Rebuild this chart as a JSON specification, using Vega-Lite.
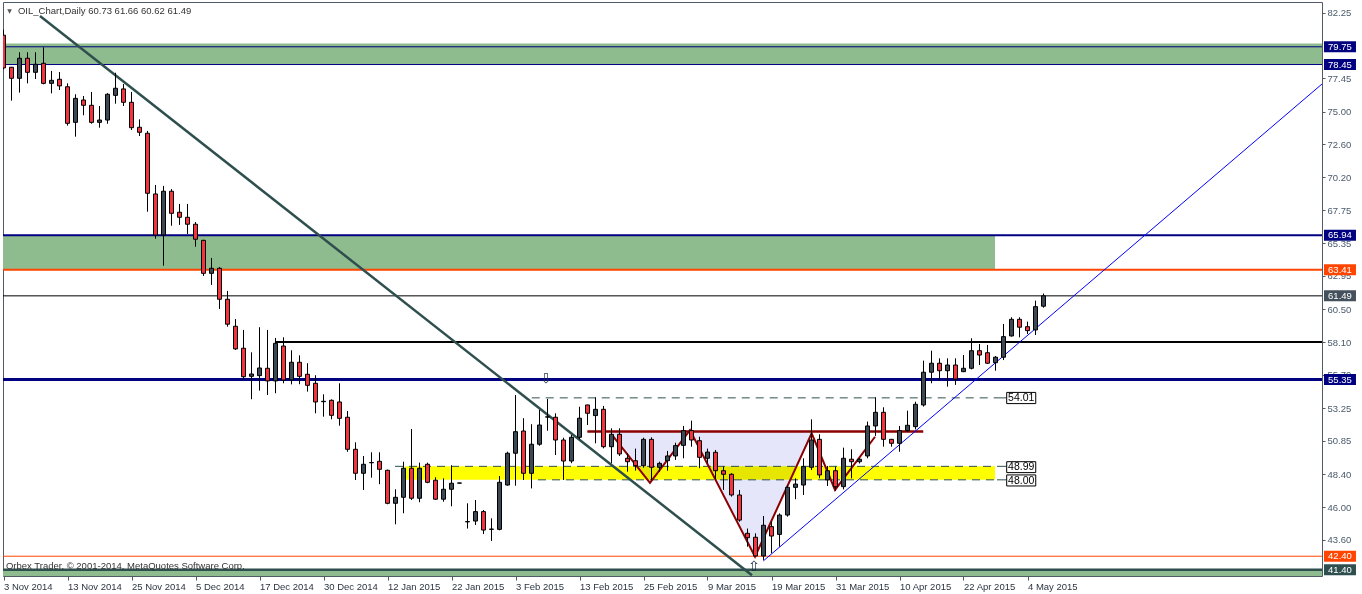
{
"$schema": "https://vega.github.io/schema/vega-lite/v6.json",
"width": 1319, "height": 574,
"autosize": {"type": "none"},
"padding": {"left": 3, "top": 2, "right": 40, "bottom": 18},
"background": "white",
"config": {"view": {"stroke": "#4f5b66", "strokeWidth": 1}, "font": "Liberation Sans", "scale": {"continuousPadding": 0}},
"resolve": {"axis": {"x": "independent", "y": "independent"}},
"datasets": {
"candles": [
{"i":0,"o":80.6,"h":81.0,"l":78.1,"c":78.2},
{"i":1,"o":78.25,"h":78.27,"l":75.8,"c":77.44},
{"i":2,"o":77.44,"h":79.35,"l":76.39,"c":78.91},
{"i":3,"o":78.91,"h":79.35,"l":77.07,"c":77.88},
{"i":4,"o":77.88,"h":79.35,"l":77.39,"c":78.47},
{"i":5,"o":78.54,"h":79.71,"l":77.0,"c":77.07},
{"i":6,"o":77.07,"h":77.98,"l":76.34,"c":77.29},
{"i":7,"o":77.37,"h":77.9,"l":76.58,"c":76.88},
{"i":8,"o":76.82,"h":77.07,"l":73.97,"c":74.14},
{"i":9,"o":74.21,"h":76.27,"l":73.16,"c":75.97},
{"i":10,"o":75.85,"h":76.14,"l":74.73,"c":75.46},
{"i":11,"o":75.46,"h":76.44,"l":74.11,"c":74.21},
{"i":12,"o":74.21,"h":75.41,"l":73.82,"c":74.38},
{"i":13,"o":74.38,"h":76.35,"l":74.11,"c":76.27},
{"i":14,"o":76.19,"h":77.85,"l":75.58,"c":76.71},
{"i":15,"o":76.66,"h":77.02,"l":75.41,"c":75.68},
{"i":16,"o":75.68,"h":76.44,"l":73.65,"c":73.82},
{"i":17,"o":73.85,"h":74.43,"l":73.21,"c":73.48},
{"i":18,"o":73.41,"h":73.58,"l":67.66,"c":69.01},
{"i":19,"o":68.96,"h":69.62,"l":65.68,"c":65.95},
{"i":20,"o":65.95,"h":69.55,"l":63.7,"c":69.16},
{"i":21,"o":69.16,"h":69.32,"l":66.63,"c":67.54},
{"i":22,"o":67.62,"h":68.23,"l":66.69,"c":67.25},
{"i":23,"o":67.25,"h":68.23,"l":66.03,"c":66.74},
{"i":24,"o":66.74,"h":66.9,"l":65.09,"c":65.64},
{"i":25,"o":65.56,"h":65.6,"l":62.95,"c":63.14},
{"i":26,"o":63.14,"h":64.27,"l":62.29,"c":63.51},
{"i":27,"o":63.51,"h":63.6,"l":60.53,"c":61.24},
{"i":28,"o":61.24,"h":61.85,"l":59.23,"c":59.41},
{"i":29,"o":59.26,"h":59.79,"l":57.52,"c":57.6},
{"i":30,"o":57.65,"h":58.99,"l":55.39,"c":55.56},
{"i":31,"o":55.59,"h":57.35,"l":53.91,"c":55.76},
{"i":32,"o":55.64,"h":59.19,"l":54.54,"c":56.2},
{"i":33,"o":56.18,"h":58.99,"l":54.22,"c":55.25},
{"i":34,"o":55.25,"h":58.4,"l":54.35,"c":58.01},
{"i":35,"o":57.81,"h":58.45,"l":55.08,"c":55.32},
{"i":36,"o":55.32,"h":57.5,"l":55.0,"c":56.62},
{"i":37,"o":56.62,"h":57.13,"l":55.01,"c":55.59},
{"i":38,"o":55.74,"h":56.55,"l":54.47,"c":54.93},
{"i":39,"o":55.08,"h":55.67,"l":52.88,"c":53.71},
{"i":40,"o":53.73,"h":54.27,"l":52.63,"c":53.76},
{"i":41,"o":53.83,"h":53.9,"l":52.44,"c":52.73},
{"i":42,"o":53.71,"h":55.08,"l":51.97,"c":52.51},
{"i":43,"o":52.59,"h":53.05,"l":50.06,"c":50.24},
{"i":44,"o":50.24,"h":50.75,"l":47.99,"c":48.48},
{"i":45,"o":48.48,"h":49.75,"l":47.26,"c":49.14},
{"i":46,"o":49.25,"h":50.02,"l":48.16,"c":49.27},
{"i":47,"o":49.36,"h":50.02,"l":47.68,"c":48.77},
{"i":48,"o":48.7,"h":48.75,"l":46.21,"c":46.28},
{"i":49,"o":46.28,"h":47.31,"l":44.74,"c":46.72},
{"i":50,"o":46.72,"h":49.33,"l":45.55,"c":48.85},
{"i":51,"o":48.85,"h":51.73,"l":46.52,"c":46.65},
{"i":52,"o":46.65,"h":49.26,"l":46.36,"c":48.85},
{"i":53,"o":49.14,"h":49.26,"l":47.75,"c":47.82},
{"i":54,"o":47.97,"h":48.19,"l":46.52,"c":46.58},
{"i":55,"o":46.58,"h":48.11,"l":46.4,"c":47.31},
{"i":56,"o":47.31,"h":49.07,"l":46.06,"c":47.75},
{"i":57,"o":47.76,"h":47.78,"l":47.74,"c":47.77},
{"i":58,"o":44.92,"h":46.28,"l":44.43,"c":44.94},
{"i":59,"o":44.98,"h":46.52,"l":44.69,"c":45.67},
{"i":60,"o":45.67,"h":45.79,"l":44.03,"c":44.32},
{"i":61,"o":44.37,"h":45.18,"l":43.52,"c":44.39},
{"i":62,"o":44.37,"h":48.28,"l":44.3,"c":47.82},
{"i":63,"o":47.62,"h":50.06,"l":47.57,"c":49.95},
{"i":64,"o":49.95,"h":54.22,"l":47.57,"c":51.53},
{"i":65,"o":51.58,"h":52.52,"l":47.99,"c":48.48},
{"i":66,"o":48.48,"h":52.08,"l":47.37,"c":50.61},
{"i":67,"o":50.61,"h":53.13,"l":50.5,"c":52.02},
{"i":68,"o":52.6,"h":53.93,"l":51.6,"c":52.62},
{"i":69,"o":52.59,"h":52.88,"l":49.82,"c":50.92},
{"i":70,"o":50.92,"h":51.09,"l":47.99,"c":49.38},
{"i":71,"o":49.38,"h":51.29,"l":49.22,"c":51.12},
{"i":72,"o":51.12,"h":53.36,"l":50.97,"c":52.52},
{"i":73,"o":53.49,"h":53.5,"l":52.02,"c":52.88},
{"i":74,"o":52.71,"h":54.05,"l":50.68,"c":53.17},
{"i":75,"o":53.17,"h":53.42,"l":50.31,"c":50.43},
{"i":76,"o":50.43,"h":51.78,"l":49.21,"c":51.34},
{"i":77,"o":51.34,"h":51.78,"l":49.75,"c":49.9},
{"i":78,"o":49.58,"h":49.95,"l":48.6,"c":49.33},
{"i":79,"o":49.4,"h":50.29,"l":48.68,"c":49.04},
{"i":80,"o":49.04,"h":51.09,"l":48.89,"c":50.97},
{"i":81,"o":50.97,"h":51.12,"l":47.99,"c":48.92},
{"i":82,"o":48.92,"h":49.33,"l":48.6,"c":49.21},
{"i":83,"o":49.4,"h":50.12,"l":48.67,"c":49.75},
{"i":84,"o":49.75,"h":50.72,"l":49.46,"c":50.51},
{"i":85,"o":50.53,"h":51.95,"l":49.58,"c":51.61},
{"i":86,"o":51.61,"h":52.34,"l":50.43,"c":50.92},
{"i":87,"o":50.87,"h":51.16,"l":48.85,"c":49.65},
{"i":88,"o":49.58,"h":50.29,"l":49.21,"c":50.04},
{"i":89,"o":50.02,"h":50.19,"l":48.04,"c":48.67},
{"i":90,"o":48.67,"h":48.97,"l":47.26,"c":48.41},
{"i":91,"o":48.41,"h":48.48,"l":46.77,"c":46.89},
{"i":92,"o":46.89,"h":47.26,"l":44.93,"c":45.05},
{"i":93,"o":44.08,"h":44.43,"l":43.1,"c":43.76},
{"i":94,"o":43.79,"h":44.08,"l":42.37,"c":42.42},
{"i":95,"o":42.42,"h":45.35,"l":42.13,"c":44.67},
{"i":96,"o":44.57,"h":44.93,"l":42.62,"c":43.88},
{"i":97,"o":44.0,"h":45.54,"l":43.1,"c":45.42},
{"i":98,"o":45.42,"h":47.6,"l":45.3,"c":47.45},
{"i":99,"o":47.45,"h":48.11,"l":46.58,"c":47.69},
{"i":100,"o":47.62,"h":49.58,"l":46.89,"c":48.96},
{"i":101,"o":48.92,"h":52.44,"l":48.72,"c":50.92},
{"i":102,"o":50.97,"h":51.34,"l":48.11,"c":48.36},
{"i":103,"o":47.99,"h":49.02,"l":47.55,"c":48.67},
{"i":104,"o":48.67,"h":48.97,"l":47.21,"c":47.5},
{"i":105,"o":47.5,"h":50.36,"l":47.3,"c":49.58},
{"i":106,"o":49.51,"h":50.24,"l":48.11,"c":49.33},
{"i":107,"o":49.33,"h":49.6,"l":49.2,"c":49.51},
{"i":108,"o":49.75,"h":52.27,"l":49.58,"c":51.95},
{"i":109,"o":51.95,"h":54.05,"l":51.22,"c":52.95},
{"i":110,"o":52.95,"h":53.32,"l":50.43,"c":50.97},
{"i":111,"o":50.97,"h":51.0,"l":50.43,"c":50.68},
{"i":112,"o":50.68,"h":51.95,"l":50.06,"c":51.61},
{"i":113,"o":51.61,"h":53.07,"l":51.53,"c":52.0},
{"i":114,"o":51.9,"h":53.73,"l":51.7,"c":53.54},
{"i":115,"o":53.49,"h":56.74,"l":53.37,"c":55.89},
{"i":116,"o":55.89,"h":57.47,"l":55.08,"c":56.55},
{"i":117,"o":56.55,"h":56.91,"l":55.32,"c":56.0},
{"i":118,"o":56.0,"h":56.91,"l":54.83,"c":56.42},
{"i":119,"o":56.42,"h":56.91,"l":54.96,"c":55.39},
{"i":120,"o":55.93,"h":57.15,"l":55.9,"c":56.18},
{"i":121,"o":56.18,"h":58.38,"l":56.1,"c":57.47},
{"i":122,"o":57.47,"h":57.96,"l":56.42,"c":57.15},
{"i":123,"o":57.32,"h":57.89,"l":56.5,"c":56.55},
{"i":124,"o":56.59,"h":57.08,"l":56.0,"c":56.99},
{"i":125,"o":56.99,"h":59.43,"l":56.78,"c":58.5},
{"i":126,"o":58.55,"h":59.92,"l":58.5,"c":59.77},
{"i":127,"o":59.77,"h":59.92,"l":58.45,"c":59.19},
{"i":128,"o":59.23,"h":59.6,"l":58.69,"c":58.94},
{"i":129,"o":58.99,"h":61.14,"l":58.62,"c":60.7},
{"i":130,"o":60.73,"h":61.66,"l":60.62,"c":61.49}
]
},
"layer": [
{"data": {"values": [{"i":-1,"i2":166,"p":78.45,"p2":80.0},{"i":-1,"i2":123.94,"p":63.41,"p2":65.94},{"i":-1,"i2":166,"p":40.0,"p2":41.4}]},
 "mark": {"type": "rect", "color": "#8fbc8f", "clip": true},
 "encoding": {
   "x": {"field":"i","type":"quantitative","scale":{"domain":[-0.0625,164.8125],"nice":false,"zero":false,"padding":0},
     "axis": {"orient":"bottom","values":[0,8,16,24,32,40,48,56,64,72,80,88,96,104,112,120,128],
       "labelExpr":"['3 Nov 2014','13 Nov 2014','25 Nov 2014','5 Dec 2014','17 Dec 2014','30 Dec 2014','12 Jan 2015','22 Jan 2015','3 Feb 2015','13 Feb 2015','25 Feb 2015','9 Mar 2015','19 Mar 2015','31 Mar 2015','10 Apr 2015','22 Apr 2015','4 May 2015'][round(datum.value/8)]",
       "labelAlign":"left","labelBaseline":"top","labelPadding":1,"labelFont":"Liberation Sans","labelFontSize":9.5,"labelColor":"#2b3542",
       "tickColor":"#4f5b66","tickSize":4,"domain":false,"grid":false,"title":null,"labelOverlap":false,"labelFlush":false,"zindex":1}},
   "x2":{"field":"i2"},
   "y": {"field":"p","type":"quantitative","scale":{"domain":[40.95,83.034],"nice":false,"zero":false,"padding":0},
     "axis": {"orient":"right","values":[82.25,77.45,75.0,72.6,70.2,67.75,65.35,62.95,60.5,58.1,55.7,53.25,50.85,48.4,46.0,43.6],
       "format":".2f","labelAlign":"left","labelBaseline":"middle","labelPadding":2,"labelFont":"Liberation Sans","labelFontSize":9.5,"labelColor":"#4a5a6c",
       "tickColor":"#4f5b66","tickSize":3,"domain":false,"grid":false,"title":null,"labelOverlap":false,"labelFlush":false,"zindex":0}},
   "y2":{"field":"p2"}}},
{"data": {"values": [{"i":50.19,"i2":123.94,"p":48.0,"p2":48.99}]},
 "mark": {"type": "rect", "color": "#ffff00"},
 "encoding": {"x": {"field":"i","type":"quantitative","scale":{"domain":[-0.0625,164.8125],"nice":false,"zero":false,"padding":0},"axis":null},"x2":{"field":"i2"},
   "y": {"field":"p","type":"quantitative","scale":{"domain":[40.95,83.034],"nice":false,"zero":false,"padding":0},"axis":null},"y2":{"field":"p2"}}},
{"data": {"values": [{"i":76.23,"p":51.55,"p2":51.16},{"i":80.81,"p":51.55,"p2":47.78},{"i":85.81,"p":51.55,"p2":51.55},{"i":93.94,"p":51.55,"p2":42.37},{"i":101.02,"p":51.55,"p2":51.41}]},
 "mark": {"type": "area", "color": "#e6e6fa", "blend": "multiply", "opacity": 1},
 "encoding": {"x": {"field":"i","type":"quantitative","scale":{"domain":[-0.0625,164.8125],"nice":false,"zero":false,"padding":0},"axis":null},
   "y": {"field":"p","type":"quantitative","scale":{"domain":[40.95,83.034],"nice":false,"zero":false,"padding":0},"axis":null},"y2":{"field":"p2"}}},
{"data": {"values": [{"p":79.75},{"p":78.45}]}, "mark": {"type":"rule","color":"#000080","strokeWidth":1},
 "encoding": {"y": {"field":"p","type":"quantitative","scale":{"domain":[40.95,83.034],"nice":false,"zero":false,"padding":0},"axis":null}}},
{"data": {"values": [{"p":65.94}]}, "mark": {"type":"rule","color":"#000080","strokeWidth":2},
 "encoding": {"y": {"field":"p","type":"quantitative","scale":{"domain":[40.95,83.034],"nice":false,"zero":false,"padding":0},"axis":null}}},
{"data": {"values": [{"p":55.35}]}, "mark": {"type":"rule","color":"#000080","strokeWidth":3},
 "encoding": {"y": {"field":"p","type":"quantitative","scale":{"domain":[40.95,83.034],"nice":false,"zero":false,"padding":0},"axis":null}}},
{"data": {"values": [{"p":63.41}]}, "mark": {"type":"rule","color":"#ff4500","strokeWidth":2},
 "encoding": {"y": {"field":"p","type":"quantitative","scale":{"domain":[40.95,83.034],"nice":false,"zero":false,"padding":0},"axis":null}}},
{"data": {"values": [{"p":42.4}]}, "mark": {"type":"rule","color":"#ff4500","strokeWidth":1},
 "encoding": {"y": {"field":"p","type":"quantitative","scale":{"domain":[40.95,83.034],"nice":false,"zero":false,"padding":0},"axis":null}}},
{"data": {"values": [{"p":61.49}]}, "mark": {"type":"rule","color":"#000000","strokeWidth":1},
 "encoding": {"y": {"field":"p","type":"quantitative","scale":{"domain":[40.95,83.034],"nice":false,"zero":false,"padding":0},"axis":null}}},
{"data": {"values": [{"p":41.4}]}, "mark": {"type":"rule","color":"#2f4f4f","strokeWidth":2.5},
 "encoding": {"y": {"field":"p","type":"quantitative","scale":{"domain":[40.95,83.034],"nice":false,"zero":false,"padding":0},"axis":null}}},
{"data": {"values": [{"i":33.94,"i2":164.8125,"p":58.1}]}, "mark": {"type":"rule","color":"#000000","strokeWidth":2},
 "encoding": {"x": {"field":"i","type":"quantitative","scale":{"domain":[-0.0625,164.8125],"nice":false,"zero":false,"padding":0},"axis":null},"x2":{"field":"i2"},
   "y": {"field":"p","type":"quantitative","scale":{"domain":[40.95,83.034],"nice":false,"zero":false,"padding":0},"axis":null}}},
{"data": {"values": [{"i":66.03,"i2":124.19,"p":54.01},{"i":48.94,"i2":124.19,"p":48.99},{"i":66.81,"i2":124.19,"p":48.0}]},
 "mark": {"type":"rule","color":"#2f4f4f","strokeWidth":1,"strokeDash":[8,6]},
 "encoding": {"x": {"field":"i","type":"quantitative","scale":{"domain":[-0.0625,164.8125],"nice":false,"zero":false,"padding":0},"axis":null},"x2":{"field":"i2"},
   "y": {"field":"p","type":"quantitative","scale":{"domain":[40.95,83.034],"nice":false,"zero":false,"padding":0},"axis":null}}},
{"data": {"values": [{"i":124.19,"i2":125.4,"p":54.01},{"i":124.19,"i2":125.4,"p":48.99},{"i":124.19,"i2":125.4,"p":48.0}]},
 "mark": {"type":"rule","color":"#2f4f4f","strokeWidth":1},
 "encoding": {"x": {"field":"i","type":"quantitative","scale":{"domain":[-0.0625,164.8125],"nice":false,"zero":false,"padding":0},"axis":null},"x2":{"field":"i2"},
   "y": {"field":"p","type":"quantitative","scale":{"domain":[40.95,83.034],"nice":false,"zero":false,"padding":0},"axis":null}}},
{"data": {"values": [{"i":72.98,"i2":114.97,"p":51.55}]}, "mark": {"type":"rule","color":"#8b0000","strokeWidth":2.5},
 "encoding": {"x": {"field":"i","type":"quantitative","scale":{"domain":[-0.0625,164.8125],"nice":false,"zero":false,"padding":0},"axis":null},"x2":{"field":"i2"},
   "y": {"field":"p","type":"quantitative","scale":{"domain":[40.95,83.034],"nice":false,"zero":false,"padding":0},"axis":null}}},
{"data": {"values": [{"i":76.23,"p":51.16},{"i":80.81,"p":47.78},{"i":85.81,"p":51.65},{"i":93.94,"p":42.37},{"i":101.02,"p":51.41},{"i":103.94,"p":47.26},{"i":108.94,"p":51.16}]},
 "mark": {"type":"line","color":"#8b0000","strokeWidth":2},
 "encoding": {"x": {"field":"i","type":"quantitative","scale":{"domain":[-0.0625,164.8125],"nice":false,"zero":false,"padding":0},"axis":null},
   "y": {"field":"p","type":"quantitative","scale":{"domain":[40.95,83.034],"nice":false,"zero":false,"padding":0},"axis":null}}},
{"data": {"values": [{"i":4.56,"p":82.01},{"i":93.56,"p":41.0}]},
 "mark": {"type":"line","color":"#2f4f4f","strokeWidth":2.5,"clip":true},
 "encoding": {"x": {"field":"i","type":"quantitative","scale":{"domain":[-0.0625,164.8125],"nice":false,"zero":false,"padding":0},"axis":null},
   "y": {"field":"p","type":"quantitative","scale":{"domain":[40.95,83.034],"nice":false,"zero":false,"padding":0},"axis":null}}},
{"data": {"values": [{"i":94.97,"p":42.05},{"i":164.81,"p":77.02}]},
 "mark": {"type":"line","color":"#0000ff","strokeWidth":1,"clip":true},
 "encoding": {"x": {"field":"i","type":"quantitative","scale":{"domain":[-0.0625,164.8125],"nice":false,"zero":false,"padding":0},"axis":null},
   "y": {"field":"p","type":"quantitative","scale":{"domain":[40.95,83.034],"nice":false,"zero":false,"padding":0},"axis":null}}},
{"data": {"name": "candles"},
 "mark": {"type":"rule","color":"#000000","strokeWidth":1,"clip":true},
 "encoding": {
   "x": {"field":"i","type":"quantitative","scale":{"domain":[-0.0625,164.8125],"nice":false,"zero":false,"padding":0},"axis":null},
   "y": {"field":"l","type":"quantitative","scale":{"domain":[40.95,83.034],"nice":false,"zero":false,"padding":0},"axis":null},
   "y2": {"field":"h"}}},
{"data": {"name": "candles"},
 "mark": {"type":"bar","width":4,"stroke":"#000000","strokeWidth":1,"clip":true},
 "encoding": {
   "x": {"field":"i","type":"quantitative","scale":{"domain":[-0.0625,164.8125],"nice":false,"zero":false,"padding":0},"axis":null},
   "y": {"field":"o","type":"quantitative","scale":{"domain":[40.95,83.034],"nice":false,"zero":false,"padding":0},"axis":null},
   "y2": {"field":"c"},
   "color": {"condition": {"test":"datum.c >= datum.o","value":"#3c4854"},"value":"#f3333e"}}},
{"data": {"values": [{"i":125.4,"i2":129.03,"p":53.59,"p2":54.41},{"i":125.4,"i2":129.03,"p":48.53,"p2":49.33},{"i":125.4,"i2":129.03,"p":47.55,"p2":48.36}]},
 "mark": {"type":"rect","fill":"#ffffff","stroke":"#000000","strokeWidth":1},
 "encoding": {"x": {"field":"i","type":"quantitative","scale":{"domain":[-0.0625,164.8125],"nice":false,"zero":false,"padding":0},"axis":null},"x2":{"field":"i2"},
   "y": {"field":"p","type":"quantitative","scale":{"domain":[40.95,83.034],"nice":false,"zero":false,"padding":0},"axis":null},"y2":{"field":"p2"}}},
{"data": {"values": [{"p":54.0,"t":"54.01"},{"p":48.93,"t":"48.99"},{"p":47.95,"t":"48.00"}]},
 "mark": {"type":"text","font":"Liberation Sans","fontSize":10.5,"color":"#000000","align":"center","baseline":"middle"},
 "encoding": {"x": {"datum":127.22,"type":"quantitative","scale":{"domain":[-0.0625,164.8125],"nice":false,"zero":false,"padding":0},"axis":null},
   "y": {"field":"p","type":"quantitative","scale":{"domain":[40.95,83.034],"nice":false,"zero":false,"padding":0},"axis":null},"text":{"field":"t"}}},
{"data": {"values": [{"p":79.75},{"p":78.45},{"p":65.94},{"p":55.35}]},
 "mark": {"type":"rule","color":"#000080","strokeWidth":11,"clip":false},
 "encoding": {"x": {"datum":165.06,"type":"quantitative","scale":{"domain":[-0.0625,164.8125],"nice":false,"zero":false,"padding":0},"axis":null},"x2":{"datum":169.06},
   "y": {"field":"p","type":"quantitative","scale":{"domain":[40.95,83.034],"nice":false,"zero":false,"padding":0},"axis":null}}},
{"data": {"values": [{"p":63.41},{"p":42.4}]},
 "mark": {"type":"rule","color":"#ff4500","strokeWidth":11,"clip":false},
 "encoding": {"x": {"datum":165.06,"type":"quantitative","scale":{"domain":[-0.0625,164.8125],"nice":false,"zero":false,"padding":0},"axis":null},"x2":{"datum":169.06},
   "y": {"field":"p","type":"quantitative","scale":{"domain":[40.95,83.034],"nice":false,"zero":false,"padding":0},"axis":null}}},
{"data": {"values": [{"p":61.49}]},
 "mark": {"type":"rule","color":"#44515d","strokeWidth":11,"clip":false},
 "encoding": {"x": {"datum":165.06,"type":"quantitative","scale":{"domain":[-0.0625,164.8125],"nice":false,"zero":false,"padding":0},"axis":null},"x2":{"datum":169.06},
   "y": {"field":"p","type":"quantitative","scale":{"domain":[40.95,83.034],"nice":false,"zero":false,"padding":0},"axis":null}}},
{"data": {"values": [{"p":41.4}]},
 "mark": {"type":"rule","color":"#2f4f4f","strokeWidth":11,"clip":false},
 "encoding": {"x": {"datum":165.06,"type":"quantitative","scale":{"domain":[-0.0625,164.8125],"nice":false,"zero":false,"padding":0},"axis":null},"x2":{"datum":169.06},
   "y": {"field":"p","type":"quantitative","scale":{"domain":[40.95,83.034],"nice":false,"zero":false,"padding":0},"axis":null}}},
{"data": {"values": [{"p":79.75,"t":"79.75"},{"p":78.45,"t":"78.45"},{"p":65.94,"t":"65.94"},{"p":63.41,"t":"63.41"},{"p":61.49,"t":"61.49"},{"p":55.35,"t":"55.35"},{"p":42.4,"t":"42.40"},{"p":41.4,"t":"41.40"}]},
 "mark": {"type":"text","font":"Liberation Sans","fontSize":9.5,"color":"#ffffff","align":"center","baseline":"middle","clip":false},
 "encoding": {"x": {"datum":167.06,"type":"quantitative","scale":{"domain":[-0.0625,164.8125],"nice":false,"zero":false,"padding":0},"axis":null},
   "y": {"field":"p","type":"quantitative","scale":{"domain":[40.95,83.034],"nice":false,"zero":false,"padding":0},"axis":null},"text":{"field":"t"}}},
{"data": {"values": [{"i":67.81,"p":55.4,"t":"⇩"},{"i":93.81,"p":41.61,"t":"⇧"}]},
 "mark": {"type":"text","font":"DejaVu Sans","fontSize":14,"color":"#1e2a44","align":"center","baseline":"middle"},
 "encoding": {"x": {"field":"i","type":"quantitative","scale":{"domain":[-0.0625,164.8125],"nice":false,"zero":false,"padding":0},"axis":null},
   "y": {"field":"p","type":"quantitative","scale":{"domain":[40.95,83.034],"nice":false,"zero":false,"padding":0},"axis":null},"text":{"field":"t"}}},
{"data": {"values": [{"i":0.75,"p":82.4,"t":"▼"}]},
 "mark": {"type":"text","font":"DejaVu Sans","fontSize":6,"color":"#555555","align":"center","baseline":"middle"},
 "encoding": {"x": {"field":"i","type":"quantitative","scale":{"domain":[-0.0625,164.8125],"nice":false,"zero":false,"padding":0},"axis":null},
   "y": {"field":"p","type":"quantitative","scale":{"domain":[40.95,83.034],"nice":false,"zero":false,"padding":0},"axis":null},"text":{"field":"t"}}},
{"data": {"values": [{"i":1.81,"p":82.37,"t":"OIL_Chart,Daily  60.73 61.66 60.62 61.49"},{"i":0.31,"p":41.68,"t":"Orbex Trader, © 2001-2014, MetaQuotes Software Corp."}]},
 "mark": {"type":"text","font":"Liberation Sans","fontSize":9.5,"color":"#333333","align":"left","baseline":"middle"},
 "encoding": {"x": {"field":"i","type":"quantitative","scale":{"domain":[-0.0625,164.8125],"nice":false,"zero":false,"padding":0},"axis":null},
   "y": {"field":"p","type":"quantitative","scale":{"domain":[40.95,83.034],"nice":false,"zero":false,"padding":0},"axis":null},"text":{"field":"t"}}}
]
}
